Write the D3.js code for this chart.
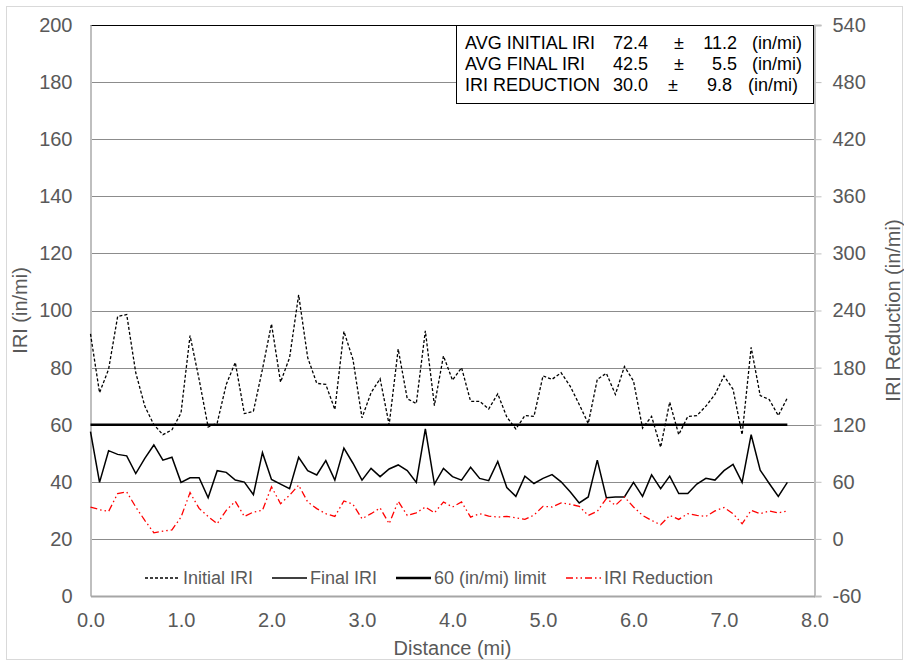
<!DOCTYPE html>
<html>
<head>
<meta charset="utf-8">
<script src="https://cdn.jsdelivr.net/npm/d3@7"></script>
<style>
  body { margin: 0; background: #fff; }
  svg { font-family: "Liberation Sans", Arial, sans-serif; }
</style>
</head>
<body>
<svg id="chart" width="904" height="662"></svg>
<script>
// distance along the section (mi)
const distance = [
    0.0, 0.1, 0.2, 0.3, 0.4, 0.5, 0.6, 0.7, 0.8, 0.9,
    1.0, 1.1, 1.2, 1.3, 1.4, 1.5, 1.6, 1.7, 1.8, 1.9,
    2.0, 2.1, 2.2, 2.3, 2.4, 2.5, 2.6, 2.7, 2.8, 2.9,
    3.0, 3.1, 3.2, 3.3, 3.4, 3.5, 3.6, 3.7, 3.8, 3.9,
    4.0, 4.1, 4.2, 4.3, 4.4, 4.5, 4.6, 4.7, 4.8, 4.9,
    5.0, 5.1, 5.2, 5.3, 5.4, 5.5, 5.6, 5.7, 5.8, 5.9,
    6.0, 6.1, 6.2, 6.3, 6.4, 6.5, 6.6, 6.7, 6.8, 6.9,
    7.0, 7.1, 7.2, 7.3, 7.4, 7.5, 7.6, 7.7
];

const initialIRI = [
    91.8, 71.2, 79.4, 97.9, 98.6, 78.2, 66.5, 60.0, 56.5, 58.2,
    64.1, 91.2, 75.9, 59.2, 60.6, 74.1, 81.8, 63.9, 64.7, 79.4,
    95.3, 74.9, 83.5, 105.5, 83.5, 74.5, 74.1, 65.3, 92.7, 82.9,
    62.4, 71.2, 76.1, 60.0, 86.5, 69.1, 67.4, 92.9, 66.7, 84.1,
    75.6, 80.0, 68.2, 68.2, 65.5, 70.8, 62.7, 58.5, 63.2, 62.9,
    77.1, 75.9, 78.2, 73.5, 67.1, 60.4, 75.9, 78.0, 70.6, 80.4,
    75.3, 58.8, 62.9, 52.1, 67.9, 56.5, 62.9, 63.2, 66.5, 70.6,
    77.1, 72.4, 56.5, 87.1, 70.2, 68.8, 63.2, 69.4
];

const finalIRI = [
    57.6, 39.8, 50.9, 49.6, 49.1, 42.9, 48.2, 52.9, 47.6, 48.6,
    39.8, 41.4, 41.4, 34.4, 43.9, 43.3, 40.6, 39.9, 35.5, 50.2,
    40.8, 39.2, 37.6, 48.6, 43.9, 42.4, 47.4, 40.6, 51.8, 46.5,
    40.6, 44.7, 41.8, 44.5, 45.9, 43.9, 39.8, 58.5, 39.2, 44.7,
    41.8, 40.6, 45.1, 41.2, 40.4, 47.1, 38.0, 34.9, 42.0, 39.4,
    41.2, 42.5, 40.0, 36.5, 32.6, 34.7, 47.6, 34.4, 34.7, 34.7,
    39.8, 34.9, 42.4, 37.6, 42.0, 35.9, 35.9, 39.2, 41.2, 40.6,
    43.9, 46.1, 39.8, 56.5, 44.1, 39.4, 34.9, 39.8
];

// plotted on the right axis
const reduction = [
    33.5, 30.7, 28.9, 47.6, 49.4, 33.5, 19.5, 6.4, 8.1, 9.5,
    22.9, 48.6, 32.0, 23.5, 15.9, 30.0, 39.5, 23.6, 28.2, 30.0,
    54.7, 37.0, 45.9, 56.5, 38.8, 31.8, 26.5, 23.6, 39.9, 36.4,
    21.2, 26.5, 32.5, 16.0, 39.5, 24.7, 27.4, 33.5, 27.4, 38.8,
    33.5, 38.8, 22.9, 26.5, 24.0, 22.9, 23.6, 22.2, 20.5, 25.0,
    34.2, 33.5, 37.8, 36.4, 34.2, 24.7, 29.0, 42.4, 35.3, 44.1,
    33.5, 24.7, 19.4, 14.8, 24.7, 20.5, 26.5, 24.7, 23.6, 29.4,
    32.9, 26.5, 15.9, 30.0, 26.5, 29.4, 27.4, 29.4
];

const limitValue = 60;

const leftTicks = [0, 20, 40, 60, 80, 100, 120, 140, 160, 180, 200];
const rightTicks = [-60, 0, 60, 120, 180, 240, 300, 360, 420, 480, 540];
const xTicks = [0, 1, 2, 3, 4, 5, 6, 7, 8];

const statRows = [
    ["AVG INITIAL IRI", "72.4", "11.2"],
    ["AVG FINAL  IRI", "42.5", "5.5"],
    ["IRI REDUCTION", "30.0", "9.8"]
];

const legendItems = ["Initial IRI", "Final IRI", "60 (in/mi) limit", "IRI Reduction"];

const svg = d3.select("#chart");
const plotLeft = 90.5, plotRight = 814.5, plotTop = 25, plotBottom = 596;

const x = d3.scaleLinear().domain([0, 8]).range([plotLeft, plotRight]);
const y = d3.scaleLinear().domain([0, 200]).range([plotBottom, plotTop]);
const y2 = d3.scaleLinear().domain([-60, 540]).range([plotBottom, plotTop]);

// outer frame
svg.append("rect")
    .attr("x", 6.5).attr("y", 6.5)
    .attr("width", 896).attr("height", 653)
    .attr("fill", "#fff")
    .attr("stroke", "#d9d9d9");

// gridlines
svg.append("g")
    .selectAll("line")
    .data(leftTicks.filter(d => d > 0 && d < 200))
    .enter().append("line")
    .attr("x1", plotLeft).attr("x2", plotRight)
    .attr("y1", d => Math.round(y(d)) + 0.5)
    .attr("y2", d => Math.round(y(d)) + 0.5)
    .attr("stroke", "#8c8c8c")
    .attr("stroke-width", 1);

// top border
svg.append("line")
    .attr("x1", plotLeft).attr("x2", plotRight)
    .attr("y1", plotTop + 0.5).attr("y2", plotTop + 0.5)
    .attr("stroke", "#000");

// left axis
const leftAxis = svg.append("g")
    .attr("transform", `translate(${plotLeft},0)`)
    .call(d3.axisLeft(y).tickValues(leftTicks).tickSize(0).tickPadding(18));

// right axis (hyphen minus like the original, not d3's unicode minus)
const rightAxis = svg.append("g")
    .attr("transform", `translate(${plotRight},0)`)
    .call(d3.axisRight(y2).tickValues(rightTicks).tickSize(7).tickPadding(11).tickFormat(d => String(d)));

// bottom axis
const bottomAxis = svg.append("g")
    .attr("transform", `translate(0,${plotBottom})`)
    .call(d3.axisBottom(x).tickValues(xTicks).tickSize(0).tickPadding(17).tickFormat(d3.format(".1f")));

[leftAxis, rightAxis, bottomAxis].forEach(g => {
    g.selectAll("text")
        .attr("fill", "#595959")
        .style("font-size", "20px")
        .style("font-family", "'Liberation Sans', Arial, sans-serif");
    g.select(".domain").attr("stroke", "#bfbfbf").attr("stroke-width", 2);
    g.selectAll(".tick line").attr("stroke", "#bfbfbf");
});
bottomAxis.select(".domain").attr("stroke", "#a6a6a6");

// axis titles
svg.append("text")
    .attr("transform", `translate(27,${(plotTop + plotBottom) / 2}) rotate(-90)`)
    .attr("text-anchor", "middle")
    .attr("fill", "#595959")
    .style("font-size", "20px")
    .text("IRI (in/mi)");

svg.append("text")
    .attr("transform", `translate(900,${(plotTop + plotBottom) / 2}) rotate(-90)`)
    .attr("text-anchor", "middle")
    .attr("fill", "#595959")
    .style("font-size", "20px")
    .text("IRI Reduction (in/mi)");

svg.append("text")
    .attr("x", (plotLeft + plotRight) / 2)
    .attr("y", 655)
    .attr("text-anchor", "middle")
    .attr("fill", "#595959")
    .style("font-size", "20px")
    .text("Distance (mi)");

// series
const lineLeft = values => d3.line()
    .x((d, i) => x(distance[i]))
    .y(d => y(d))(values);

svg.append("path")
    .attr("d", lineLeft(initialIRI))
    .attr("fill", "none")
    .attr("stroke", "#000")
    .attr("stroke-width", 1.3)
    .attr("stroke-dasharray", "3,2");

svg.append("path")
    .attr("d", lineLeft(finalIRI))
    .attr("fill", "none")
    .attr("stroke", "#000")
    .attr("stroke-width", 1.5);

svg.append("line")
    .attr("x1", x(distance[0]))
    .attr("x2", x(distance[distance.length - 1]))
    .attr("y1", y(limitValue))
    .attr("y2", y(limitValue))
    .attr("stroke", "#000")
    .attr("stroke-width", 2.5);

svg.append("path")
    .attr("d", d3.line()
        .x((d, i) => x(distance[i]))
        .y(d => y2(d))(reduction))
    .attr("fill", "none")
    .attr("stroke", "#ff0000")
    .attr("stroke-width", 1.3)
    .attr("stroke-dasharray", "7,3,1.5,3,1.5,3");

// legend
const legendStyles = [
    { x: 145, width: 1.3, dash: "3,2", color: "#000" },
    { x: 272, width: 1.5, dash: null, color: "#000" },
    { x: 396, width: 2.5, dash: null, color: "#000" },
    { x: 566, width: 1.3, dash: "7,3,1.5,3,1.5,3", color: "#ff0000" }
];
const legendY = 578;
const legend = svg.append("g")
    .selectAll("g")
    .data(legendItems)
    .enter().append("g");

legend.append("line")
    .attr("x1", (d, i) => legendStyles[i].x)
    .attr("x2", (d, i) => legendStyles[i].x + 35)
    .attr("y1", legendY).attr("y2", legendY)
    .attr("stroke", (d, i) => legendStyles[i].color)
    .attr("stroke-width", (d, i) => legendStyles[i].width)
    .attr("stroke-dasharray", (d, i) => legendStyles[i].dash);

legend.append("text")
    .attr("x", (d, i) => legendStyles[i].x + 38)
    .attr("y", legendY + 6)
    .attr("fill", "#595959")
    .style("font-size", "18px")
    .text(d => d);

// stats box
svg.append("rect")
    .attr("x", 456.5).attr("y", plotTop + 0.5)
    .attr("width", 357).attr("height", 78)
    .attr("fill", "#fff")
    .attr("stroke", "#000");

const rows = svg.append("g")
    .selectAll("g")
    .data(statRows)
    .enter().append("g")
    .attr("transform", (d, i) => `translate(0,${49 + i * 21})`)
    .style("font-size", "18px")
    .attr("fill", "#000");

rows.append("text").attr("x", 465).text(d => d[0]);
rows.append("text").attr("x", 648).attr("text-anchor", "end").text(d => d[1]);
rows.append("text").attr("x", (d, i) => i === 2 ? 673 : 679).attr("text-anchor", "middle").text("±");
rows.append("text").attr("x", (d, i) => i === 2 ? 732 : 737).attr("text-anchor", "end").text(d => d[2]);
rows.append("text").attr("x", (d, i) => i === 2 ? 748 : 752).text("(in/mi)");
</script>
</body>
</html>
